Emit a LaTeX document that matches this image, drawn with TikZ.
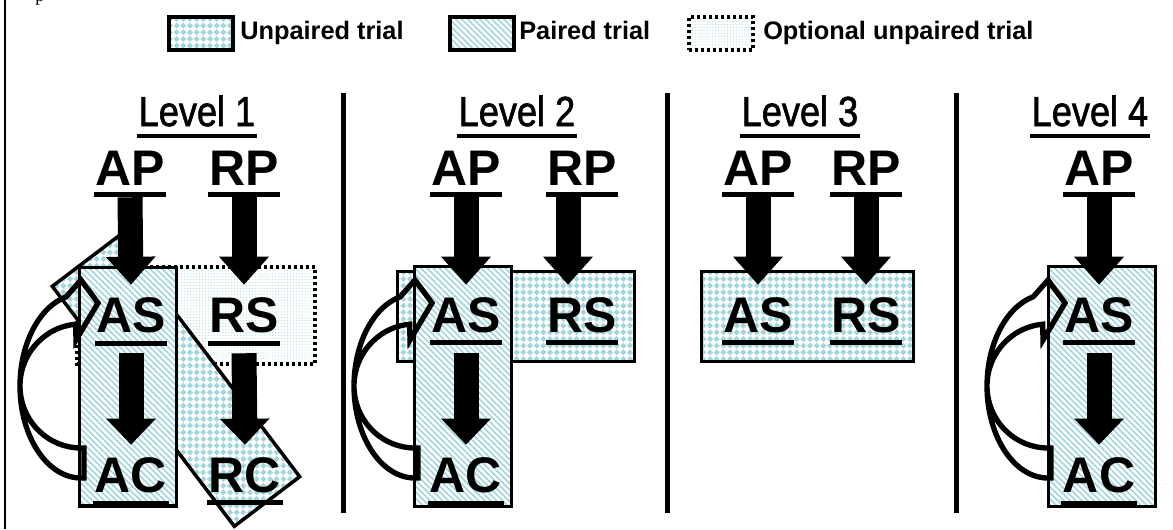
\documentclass[tikz,border=0pt]{standalone}
\usepackage{fontspec}
\setmainfont{Liberation Sans}
\newfontfamily\timesfam{Liberation Serif}
\newfontfamily\lvlfont[FakeBold=1.6]{Liberation Sans}
\usetikzlibrary{arrows.meta,patterns,patterns.meta}
\definecolor{hatchblue}{RGB}{160,214,220}
\definecolor{dotblue}{RGB}{175,222,228}
\tikzdeclarepattern{
  name=diamonds,
  type=uncolored,
  bottom left={(-0.1bp,-0.1bp)},
  top right={(5.1bp,5.1bp)},
  tile size={(5bp,5bp)},
  code={\fill (2.5bp,0.25bp) -- (4.75bp,2.5bp) -- (2.5bp,4.75bp) -- (0.25bp,2.5bp) -- cycle;}
}
\tikzset{
  unpaired/.style={draw=black, line width=2.6bp, preaction={fill=white}, pattern=diamonds, pattern color=hatchblue},
  paired/.style={draw=black, line width=2.6bp, preaction={fill=white}, pattern={Lines[angle=-45,distance=3.2bp,line width=1.2bp]}, pattern color=hatchblue},
  optional/.style={draw=black, line width=2.8bp, dash pattern=on 2.5bp off 2bp, preaction={fill=white}, pattern={Dots[distance=2.2bp,radius=0.45bp]}, pattern color=dotblue},
  lbl/.style={font=\fontsize{37.5bp}{40bp}\selectfont\bfseries, inner sep=0pt, anchor=base},
  ptext/.style={lbl, text height=27bp, text depth=9bp},
  stext/.style={lbl, text height=35.25bp, text depth=15.75bp},
  ctext/.style={lbl, text height=35.25bp, text depth=11bp},
  lvl/.style={font=\lvlfont\fontsize{31.5bp}{34bp}\selectfont, inner sep=0pt, anchor=base, xscale=0.86},
  legtext/.style={font=\fontsize{19bp}{22bp}\selectfont\bfseries, inner sep=0pt, anchor=base west},
  swatch/.style={minimum width=48bp, minimum height=25bp, inner sep=0pt, line width=3bp},
  blkP/.style={line width=18.75bp, -{Triangle[length=21bp,width=36bp]}},
  blkS/.style={line width=18.75bp, -{Triangle[length=19.5bp,width=36bp]}},
  ulline/.style={line width=3.75bp},
  lvlline/.style={line width=2.6bp},
  divider/.style={line width=3.75bp},
  curvline/.style={draw=black, line width=4bp, line join=miter}
}
% curved block arrow (outline only), #1 = reference point of the band
\newcommand\curvarrow[1]{%
  \begin{scope}[shift={#1}]
    \draw[curvline]
      (0,92) arc[start angle=90,end angle=256,x radius=61,y radius=92]
      -- (0,-106) -- (17,-83) -- (-5,-46) -- (265:61 and 62)
      arc[start angle=265,end angle=90,x radius=61,y radius=62]
      -- (3,62) -- (3,92) -- cycle;
  \end{scope}}
\newcommand\myul[2]{\draw[ulline] ([xshift=-1bp,yshift=-#2]#1.base west) -- ([xshift=1bp,yshift=-#2]#1.base east);}
\newcommand\lvlul[1]{\draw[lvlline] ([xshift=-1bp,yshift=-7.5bp]#1.base west) -- ([xshift=1bp,yshift=-7.5bp]#1.base east);}
\begin{document}
\begin{tikzpicture}[x=0.75bp,y=-0.75bp]
\useasboundingbox (0,0) rectangle (1173,529);
% frame line and cropped caption letter
\draw[line width=1.5bp] (5,0) -- (5,529);
\node[font=\timesfam\fontsize{13.5bp}{15bp}\selectfont, inner sep=0pt, anchor=base west] (pfrag) at (35,1) {p};

% legend
\node[unpaired, swatch] (legU) at (201,33.5) {};
\node[legtext] (legUt) at (240,39.5) {Unpaired trial};
\node[paired, swatch] (legP) at (482,33.5) {};
\node[legtext] (legPt) at (519,39.5) {Paired trial};
\node[optional, swatch, line width=3bp] (legO) at (721,33.5) {};
\node[legtext] (legOt) at (763,39.5) {Optional unpaired trial};

% level headings
\node[lvl] (L1) at (197,126) {Level 1};
\node[lvl] (L2) at (517,126) {Level 2};
\node[lvl] (L3) at (800,126) {Level 3};
\node[lvl] (L4) at (1090,126) {Level 4};
\lvlul{L1}\lvlul{L2}\lvlul{L3}\lvlul{L4}

% dividers
\draw[divider] (343.5,93) -- (343.5,513);
\draw[divider] (667.5,93) -- (667.5,513);
\draw[divider] (956.5,93) -- (956.5,513);

% ---------- Level 1 ----------
\draw[optional] (77,267) rectangle (315,364);
\draw[unpaired] (52.3,286.3) -- (117.7,236.7) -- (299.7,476.7) -- (234.3,526.3) -- cycle;
\draw[paired] (79.5,267.5) rectangle (176.5,506);
\curvarrow{(81,386)}
\node[ptext] (AP1) at (130,185) {AP};
\node[ptext] (RP1) at (244,185) {RP};
\node[stext] (AS1) at (131,332) {AS};
\node[stext] (RS1) at (244,332) {RS};
\node[ctext] (AC1) at (131,492) {AC};
\node[ctext] (RC1) at (245,492) {RC};
\myul{AP1}{7bp}\myul{RP1}{7bp}\myul{AS1}{8.5bp}\myul{RS1}{8.5bp}\myul{AC1}{8.5bp}\myul{RC1}{8bp}
\draw[blkP] (AP1.south) -- (AS1.north);
\draw[blkP] (RP1.south) -- (RS1.north);
\draw[blkS] (AS1.south) -- (AC1.north);
\draw[blkS] (RS1.south) -- (RC1.north);

% ---------- Level 2 ----------
\draw[unpaired] (397.5,271.5) rectangle (634.5,361.5);
\draw[paired] (414.5,266.5) rectangle (511.5,506.5);
\curvarrow{(415,386)}
\node[ptext] (AP2) at (466,185) {AP};
\node[ptext] (RP2) at (582,185) {RP};
\node[stext] (AS2) at (466,332) {AS};
\node[stext] (RS2) at (582,332) {RS};
\node[ctext] (AC2) at (466,492) {AC};
\myul{AP2}{7bp}\myul{RP2}{7bp}\myul{AS2}{8bp}\myul{RS2}{8bp}\myul{AC2}{8.5bp}
\draw[blkP] (AP2.south) -- (AS2.north);
\draw[blkP] ([xshift=-10.5bp]RP2.south) -- ([xshift=-10.5bp]RS2.north);
\draw[blkS] (AS2.south) -- (AC2.north);

% ---------- Level 3 ----------
\draw[unpaired] (701.5,271.5) rectangle (913.5,361.5);
\node[ptext] (AP3) at (758,185) {AP};
\node[ptext] (RP3) at (866,185) {RP};
\node[stext] (AS3) at (758,332) {AS};
\node[stext] (RS3) at (866,332) {RS};
\myul{AP3}{7bp}\myul{RP3}{7bp}\myul{AS3}{8bp}\myul{RS3}{8bp}
\draw[blkP] (AP3.south) -- (AS3.north);
\draw[blkP] (RP3.south) -- (RS3.north);

% ---------- Level 4 ----------
\draw[paired] (1048.5,266.5) rectangle (1155.5,506.5);
\curvarrow{(1048,386)}
\node[ptext] (AP4) at (1099,185) {AP};
\node[stext] (AS4) at (1099,332) {AS};
\node[ctext] (AC4) at (1099,492) {AC};
\myul{AP4}{7bp}\myul{AS4}{8bp}\myul{AC4}{8.5bp}
\draw[blkP] (AP4.south) -- (AS4.north);
\draw[blkS] (AS4.south) -- (AC4.north);
\end{tikzpicture}
\end{document}
